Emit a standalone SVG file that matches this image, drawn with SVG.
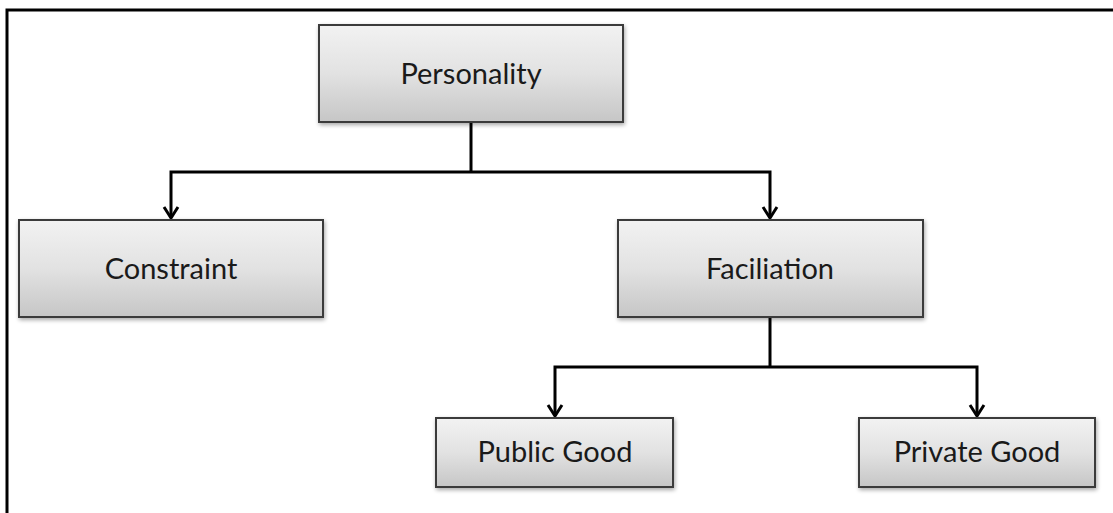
<svg xmlns="http://www.w3.org/2000/svg" width="1113" height="513" viewBox="0 0 1113 513">
  <style>
    .box { fill: url(#boxFill); stroke: #3a3a3a; stroke-width: 2; filter: url(#shadow); }
    .label { font-family: Lato, "Open Sans", "Liberation Sans", sans-serif; font-size: 29px; fill: #1a1a1a; text-anchor: middle; }
    .wire { fill: none; stroke: #000; stroke-width: 3; }
    .frame { fill: none; stroke: #000; stroke-width: 3; }
  </style>
  <defs>
    <linearGradient id="boxFill" x1="0" y1="0" x2="0" y2="1">
      <stop offset="0" stop-color="#f2f2f2"/>
      <stop offset="0.5" stop-color="#e2e2e2"/>
      <stop offset="1" stop-color="#c6c6c6"/>
    </linearGradient>
    <filter id="shadow" x="-5%" y="-10%" width="115%" height="130%">
      <feGaussianBlur in="SourceAlpha" stdDeviation="2"/>
      <feOffset dx="1" dy="2" result="b"/>
      <feComponentTransfer><feFuncA type="linear" slope="0.35"/></feComponentTransfer>
      <feMerge><feMergeNode/><feMergeNode in="SourceGraphic"/></feMerge>
    </filter>
    <!-- open chevron head, drawn pointing along +x so orient can turn it -->
    <marker id="chevron" viewBox="0 0 16 18" refX="13" refY="9" markerWidth="16" markerHeight="18" markerUnits="userSpaceOnUse" orient="auto-start-reverse">
      <path d="M2 2 L13 9 L2 16" fill="none" stroke="#000" stroke-width="3" stroke-linejoin="miter"/>
    </marker>
  </defs>

  <rect width="1113" height="513" fill="#fff"/>

  <!-- page frame: top and left rules only -->
  <path class="frame" d="M7 513 V10 H1113"/>

  <g id="connectors">
    <path class="wire" d="M471 122 V172"/>
    <path class="wire" d="M171 218 V172 H770 V218" marker-start="url(#chevron)" marker-end="url(#chevron)"/>
    <path class="wire" d="M770 317 V367"/>
    <path class="wire" d="M555 416 V367 H977 V416" marker-start="url(#chevron)" marker-end="url(#chevron)"/>
  </g>

  <g id="personality">
    <rect class="box" x="319" y="25" width="304" height="97"/>
    <text class="label" x="471" y="84">Personality</text>
  </g>

  <g id="constraint">
    <rect class="box" x="19" y="220" width="304" height="97"/>
    <text class="label" x="171" y="279">Constraint</text>
  </g>

  <g id="faciliation">
    <rect class="box" x="618" y="220" width="305" height="97"/>
    <text class="label" x="770" y="279">Faciliation</text>
  </g>

  <g id="public-good">
    <rect class="box" x="436" y="418" width="237" height="69"/>
    <text class="label" x="555" y="462">Public Good</text>
  </g>

  <g id="private-good">
    <rect class="box" x="859" y="418" width="236" height="69"/>
    <text class="label" x="977" y="462">Private Good</text>
  </g>
</svg>
